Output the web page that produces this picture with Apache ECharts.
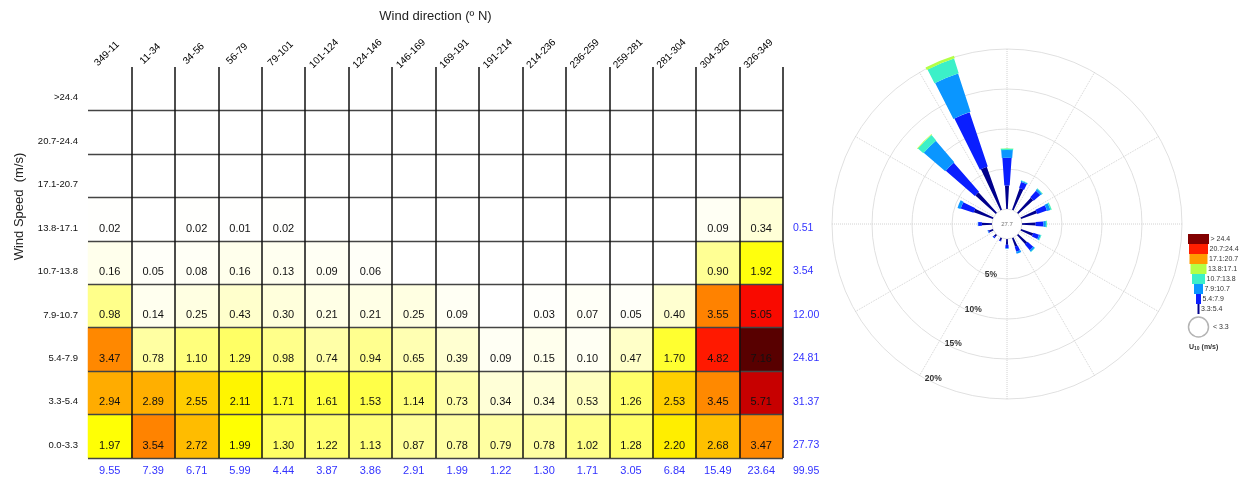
<!DOCTYPE html>
<html>
<head>
<meta charset="utf-8">
<title>Wind speed by direction</title>
<script src="https://cdn.jsdelivr.net/npm/echarts@6/dist/echarts.min.js"></script>
<style>
  html, body { margin: 0; padding: 0; background: #fff; }
  #chart { width: 1248px; height: 481px; }
</style>
</head>
<body>
<div id="chart"></div>
<script>
// direction sectors (deg N)
const directions = ['349-11', '11-34', '34-56', '56-79', '79-101', '101-124', '124-146', '146-169',
  '169-191', '191-214', '214-236', '236-259', '259-281', '281-304', '304-326', '326-349'];
// speed classes (m/s), lowest first
const speedBins = ['0.0-3.3', '3.3-5.4', '5.4-7.9', '7.9-10.7', '10.7-13.8', '13.8-17.1', '17.1-20.7', '20.7-24.4', '>24.4'];

// frequency (%) per direction for each speed class, null = empty cell
const freq_00_33 = [1.97, 3.54, 2.72, 1.99, 1.30, 1.22, 1.13, 0.87, 0.78, 0.79, 0.78, 1.02, 1.28, 2.20, 2.68, 3.47];
const freq_33_54 = [2.94, 2.89, 2.55, 2.11, 1.71, 1.61, 1.53, 1.14, 0.73, 0.34, 0.34, 0.53, 1.26, 2.53, 3.45, 5.71];
const freq_54_79 = [3.47, 0.78, 1.10, 1.29, 0.98, 0.74, 0.94, 0.65, 0.39, 0.09, 0.15, 0.10, 0.47, 1.70, 4.82, 7.16];
const freq_79_107 = [0.98, 0.14, 0.25, 0.43, 0.30, 0.21, 0.21, 0.25, 0.09, null, 0.03, 0.07, 0.05, 0.40, 3.55, 5.05];
const freq_107_138 = [0.16, 0.05, 0.08, 0.16, 0.13, 0.09, 0.06, null, null, null, null, null, null, null, 0.90, 1.92];
const freq_138_171 = [0.02, null, 0.02, 0.01, 0.02, null, null, null, null, null, null, null, null, null, 0.09, 0.34];
const freq_171_207 = [null, null, null, null, null, null, null, null, null, null, null, null, null, null, null, null];
const freq_207_244 = [null, null, null, null, null, null, null, null, null, null, null, null, null, null, null, null];
const freq_gt_244 = [null, null, null, null, null, null, null, null, null, null, null, null, null, null, null, null];

// totals printed in blue
const rowTotals = ['27.73', '31.37', '24.81', '12.00', '3.54', '0.51', '', '', ''];
const colTotals = ['9.55', '7.39', '6.71', '5.99', '4.44', '3.87', '3.86', '2.91', '1.99', '1.22', '1.30', '1.71', '3.05', '6.84', '15.49', '23.64'];
const grandTotal = '99.95';

const freqRows = [freq_00_33, freq_33_54, freq_54_79, freq_79_107, freq_107_138,
  freq_138_171, freq_171_207, freq_207_244, freq_gt_244];

const FONT = '"Liberation Sans", Arial, sans-serif';
const BLUE = '#3232ff';
const heatColors = ['#ffffff', '#ffffd0', '#ffffa0', '#ffff70', '#ffff40', '#ffff00', '#ffdc00', '#ffb400',
  '#ff9c00', '#ff7e00', '#ff6000', '#ff4000', '#ff1a00', '#f50000', '#d00000', '#b00000', '#900000', '#700000', '#550000'];
// rose colours for 3.3-5.4 ... >24.4
const roseColors = ['#00008c', '#0a1eff', '#0a96ff', '#3cf0c8', '#b4ff46', '#ff9a00', '#ff1e00', '#820000'];
const roseWidths = [6, 8, 9, 9.5, 10, 10, 10, 10]; // sector width, deg

// heatmap cells
const heatData = [];
freqRows.forEach((row, i) => {
  row.forEach((v, j) => {
    if (v != null) heatData.push([j, i, v]);
  });
});

// rose: stacked classes above 3.3 m/s, calm goes in the middle
const roseData = [];
directions.forEach((d, j) => {
  let acc = 0;
  for (let i = 1; i < freqRows.length; i++) {
    const v = freqRows[i][j];
    if (!v) continue;
    roseData.push([j * 360 / directions.length, acc, acc + v, i - 1]);
    acc += v;
  }
});

function renderRose(params, api) {
  const cs = params.coordSys;
  const ang = api.value(0);
  const pIn = api.coord([api.value(1), ang]);
  const pOut = api.coord([api.value(2), ang]);
  const k = api.value(3);
  const rIn = Math.hypot(pIn[0] - cs.cx, pIn[1] - cs.cy);
  const rOut = Math.hypot(pOut[0] - cs.cx, pOut[1] - cs.cy);
  const mid = Math.atan2(pOut[1] - cs.cy, pOut[0] - cs.cx);
  const half = roseWidths[k] / 2 * Math.PI / 180;
  return {
    type: 'sector',
    shape: { cx: cs.cx, cy: cs.cy, r0: rIn, r: rOut, startAngle: mid - half, endAngle: mid + half, clockwise: true },
    style: { fill: roseColors[k] }
  };
}

// legend of the rose (funnel of swatches)
const legendWidths = [21, 19, 18, 16, 13, 9, 5, 2];
const legendEls = [];
const lx = 1198.5, ly = 234;
for (let r = 0; r < 8; r++) {
  const k = 7 - r;
  const w = legendWidths[r];
  const name = speedBins[k + 1].replace('>', '> ').replace('-', ':');
  legendEls.push({
    type: 'rect', shape: { x: lx - w / 2, y: ly + r * 10, width: w, height: 10 },
    style: { fill: roseColors[k] }
  });
  legendEls.push({
    type: 'text', x: lx + w / 2 + 1.5, y: ly + r * 10 + 5,
    style: { text: name, fontSize: 7, fontFamily: FONT, fill: '#333', align: 'left', verticalAlign: 'middle', textAlign: 'left', textVerticalAlign: 'middle' }
  });
}
legendEls.push({
  type: 'circle', shape: { cx: lx, cy: 327, r: 10 },
  style: { fill: '#fff', stroke: '#b4b4b4', lineWidth: 1.5 }
});
legendEls.push({
  type: 'text', x: 1213, y: 327,
  style: { text: '< ' + speedBins[0].split('-')[1], fontSize: 7, fontFamily: FONT, fill: '#333', align: 'left', verticalAlign: 'middle', textAlign: 'left', textVerticalAlign: 'middle' }
});
legendEls.push({
  type: 'text', x: 1189, y: 347,
  style: {
    text: '{a|U}{s|10}{a| (m/s)}', fontFamily: FONT, fill: '#333', align: 'left', verticalAlign: 'middle', textAlign: 'left', textVerticalAlign: 'middle',
    rich: { a: { fontSize: 7, fontWeight: 'bold', fontFamily: FONT }, s: { fontSize: 5, fontWeight: 'bold', fontFamily: FONT, padding: [4, 0, 0, 0] } }
  }
});

const chart = echarts.init(document.getElementById('chart'));
chart.setOption({
  animation: false,
  textStyle: { fontFamily: FONT },
  grid: { left: 88, top: 67, width: 695, height: 391 },
  xAxis: [
    {
      type: 'category', data: directions, position: 'top', z: 3,
      name: 'Wind direction (º N)', nameLocation: 'middle', nameGap: 44,
      nameTextStyle: { fontSize: 13, color: '#222', fontFamily: FONT },
      axisLine: { show: false }, axisTick: { show: false },
      axisLabel: { interval: 0, rotate: -45, fontSize: 10, color: '#000', margin: 16, align: 'center', verticalAlign: 'middle', padding: [0, 8, 8, 0] },
      splitLine: { show: true, interval: 0, showMinLine: false, showMaxLine: true, lineStyle: { color: '#111', width: 1.5 } }
    },
    {
      type: 'category', data: colTotals, position: 'bottom',
      axisLine: { show: false }, axisTick: { show: false }, splitLine: { show: false },
      axisLabel: { interval: 0, color: BLUE, fontSize: 11, margin: 7 }
    }
  ],
  yAxis: [
    {
      type: 'category', data: speedBins, z: 3,
      name: 'Wind Speed  (m/s)', nameLocation: 'middle', nameGap: 62, nameRotate: 90,
      nameTextStyle: { fontSize: 13, color: '#222', fontFamily: FONT, padding: [0, 0, 0, 112] },
      axisLine: { show: false }, axisTick: { show: false },
      axisLabel: { interval: 0, fontSize: 9.5, color: '#111', margin: 10, verticalAlign: 'top', lineHeight: 18 },
      splitLine: { show: true, interval: 0, showMinLine: true, showMaxLine: false, lineStyle: { color: '#444', width: 1.3 } }
    },
    {
      type: 'category', data: rowTotals, position: 'right',
      axisLine: { show: false }, axisTick: { show: false }, splitLine: { show: false },
      axisLabel: { interval: 0, color: BLUE, fontSize: 10.5, margin: 10, verticalAlign: 'top', lineHeight: 18 }
    }
  ],
  polar: [
    { center: [1007, 224], radius: [15, 175] },
    { center: [1007, 224], radius: [15, 175] }
  ],
  angleAxis: [
    {
      polarIndex: 0, type: 'value', min: 0, max: 360, interval: 30, startAngle: 240, clockwise: true,
      axisLine: { show: false }, axisTick: { show: false }, axisLabel: { show: false },
      splitLine: { show: true, lineStyle: { color: '#d2d2d2', type: 'dotted', width: 1 } }
    },
    {
      polarIndex: 1, type: 'value', min: 0, max: 360, startAngle: 90, clockwise: true,
      axisLine: { show: false }, axisTick: { show: false }, axisLabel: { show: false }, splitLine: { show: false }
    }
  ],
  radiusAxis: [
    {
      polarIndex: 0, type: 'value', min: 0, max: 20, interval: 5,
      axisLine: { show: false }, axisTick: { show: false },
      axisLabel: { showMinLabel: false, formatter: v => v + '%', fontSize: 8.5, fontWeight: 'bold', color: '#333', margin: 6 },
      splitLine: { show: true, lineStyle: { color: '#e0e0e0', width: 1 } }
    },
    {
      polarIndex: 1, type: 'value', min: 0, max: 20,
      axisLine: { show: false }, axisTick: { show: false }, axisLabel: { show: false }, splitLine: { show: false }
    }
  ],
  visualMap: {
    type: 'continuous', show: false, seriesIndex: 0, dimension: 2,
    min: 0, max: 7.2, inRange: { color: heatColors }
  },
  series: [
    {
      type: 'heatmap', xAxisIndex: 0, yAxisIndex: 0, data: heatData,
      itemStyle: { borderWidth: 0 },
      emphasis: { disabled: true },
      label: { show: true, offset: [0, 9.5], fontSize: 11, color: '#111', formatter: p => p.value[2].toFixed(2) }
    },
    {
      type: 'custom', coordinateSystem: 'polar', polarIndex: 1, silent: true,
      encode: { angle: 0, radius: 2 },
      renderItem: renderRose, data: roseData
    }
  ],
  graphic: [
    {
      type: 'text', x: 793, y: 471,
      style: { text: grandTotal, fill: BLUE, fontSize: 10.5, fontFamily: FONT, align: 'left', verticalAlign: 'middle', textAlign: 'left', textVerticalAlign: 'middle' }
    },
    {
      type: 'text', x: 1007, y: 224, z: 10,
      style: { text: parseFloat(rowTotals[0]).toFixed(1), fill: '#777', fontSize: 6, fontFamily: FONT, align: 'center', verticalAlign: 'middle', textAlign: 'center', textVerticalAlign: 'middle' }
    },
    { type: 'group', children: legendEls }
  ]
});
</script>
</body>
</html>
